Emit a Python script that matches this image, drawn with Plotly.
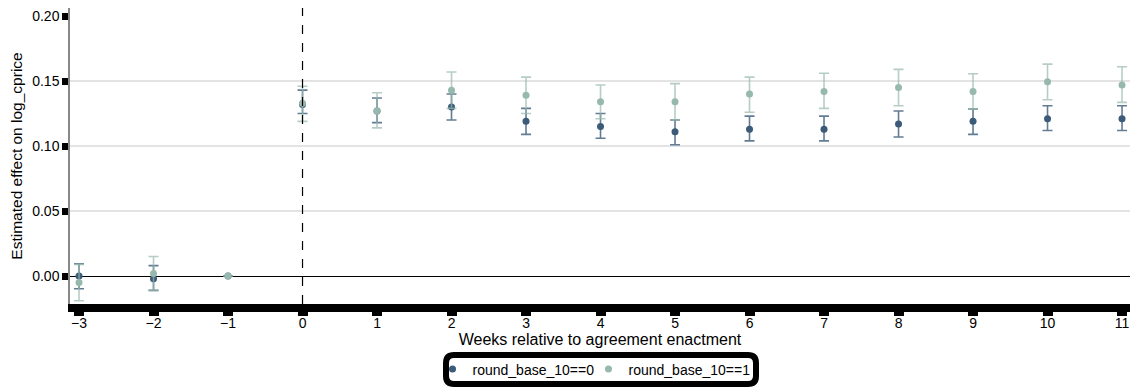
import plotly.graph_objects as go

weeks = [-3, -2, -1, 0, 1, 2, 3, 4, 5, 6, 7, 8, 9, 10, 11]

est0 = [0.000, -0.002, 0.000, 0.132, 0.127, 0.130, 0.119, 0.115, 0.111, 0.113, 0.113, 0.117, 0.119, 0.121, 0.121]
hi0 = [0.0095, 0.008, 0.000, 0.143, 0.137, 0.140, 0.129, 0.125, 0.120, 0.123, 0.123, 0.127, 0.1285, 0.131, 0.131]
lo0 = [-0.0098, -0.011, 0.000, 0.125, 0.118, 0.120, 0.109, 0.106, 0.101, 0.104, 0.104, 0.107, 0.109, 0.112, 0.112]

est1 = [-0.005, 0.002, 0.000, 0.133, 0.127, 0.143, 0.139, 0.134, 0.134, 0.140, 0.142, 0.145, 0.142, 0.1495, 0.147]
hi1 = [0.009, 0.015, 0.000, 0.146, 0.141, 0.157, 0.153, 0.147, 0.148, 0.153, 0.156, 0.159, 0.1556, 0.163, 0.161]
lo1 = [-0.019, -0.011, 0.000, 0.119, 0.114, 0.129, 0.125, 0.121, 0.120, 0.126, 0.129, 0.131, 0.1285, 0.1356, 0.1336]

names = ["round_base_10==0", "round_base_10==1"]
dot_colors = ["#3b5b78", "#97b8ad"]
bar_colors = ["rgba(59,91,120,0.8)", "rgba(151,184,173,0.7)"]

yticks = [0.00, 0.05, 0.10, 0.15, 0.20]
grid_vals = [0.05, 0.10, 0.15]
xticks = weeks

FONT = "Liberation Sans, Arial, sans-serif"

fig = go.Figure()
# gridline-only overlay axis (drawn first)
fig.add_trace(go.Scatter(x=[weeks[0]], y=[0], yaxis="y2", mode="markers",
                         marker=dict(opacity=0), showlegend=False, hoverinfo="skip"))
for i, (est, hi, lo, name, dc, bc) in enumerate([
    (est0, hi0, lo0, names[0], dot_colors[0], bar_colors[0]),
    (est1, hi1, lo1, names[1], dot_colors[1], bar_colors[1]),
]):
    fig.add_trace(go.Scatter(
        x=weeks, y=est, mode="markers", name=name,
        marker=dict(color=dc, size=7),
        legendwidth=111 if i == 0 else None,
        error_y=dict(type="data", symmetric=False,
                     array=[h - e for h, e in zip(hi, est)],
                     arrayminus=[e - l for e, l in zip(est, lo)],
                     color=bc, thickness=1.6, width=5),
    ))

fig.add_vline(x=0, line=dict(color="black", width=1.2, dash="dash"))

H, W = 388, 1130
L, top, plot_bottom = 70, 8, 304
dom_lo = (H - plot_bottom) / (H - top)


def px_x(p):
    return (p - L) / (W - L)


def px_y(p):
    return (H - p) / (H - top)


# rounded legend frame (decoration)
x0, x1, y0, y1, r = 446, 756, 355, 384, 8
path = (
    f"M {px_x(x0 + r)},{px_y(y0)} L {px_x(x1 - r)},{px_y(y0)} "
    f"Q {px_x(x1)},{px_y(y0)} {px_x(x1)},{px_y(y0 + r)} "
    f"L {px_x(x1)},{px_y(y1 - r)} Q {px_x(x1)},{px_y(y1)} {px_x(x1 - r)},{px_y(y1)} "
    f"L {px_x(x0 + r)},{px_y(y1)} Q {px_x(x0)},{px_y(y1)} {px_x(x0)},{px_y(y1 - r)} "
    f"L {px_x(x0)},{px_y(y0 + r)} Q {px_x(x0)},{px_y(y0)} {px_x(x0 + r)},{px_y(y0)} Z"
)
fig.add_shape(type="path", path=path, xref="paper", yref="paper",
              line=dict(color="black", width=6), fillcolor="rgba(0,0,0,0)", layer="above")

yr = [-0.0215, 0.2062]
fig.update_layout(
    width=W, height=H,
    margin=dict(l=L, r=0, t=top, b=0),
    paper_bgcolor="white", plot_bgcolor="white",
    font=dict(family=FONT, size=14, color="black"),
    showlegend=True,
    legend=dict(orientation="h", x=px_x(594), xanchor="center", y=px_y(369.5), yanchor="middle",
                borderwidth=0, bgcolor="rgba(0,0,0,0)", font=dict(size=14),
                itemwidth=30),
    xaxis=dict(range=[-3.121, 11.107], tickvals=xticks,
               ticktext=["\u2212" + str(-w) if w < 0 else str(w) for w in xticks],
               automargin=False,
               showgrid=False, zeroline=False, showline=True, linecolor="black", linewidth=8,
               ticks="outside", ticklen=4, tickwidth=10, tickcolor="black",
               ticklabelstandoff=-5,
               title=dict(text="Weeks relative to agreement enactment", font=dict(size=16), standoff=0),
               tickfont=dict(size=14)),
    yaxis=dict(range=yr, domain=[dom_lo, 1], tickvals=yticks, ticktext=["%.2f" % v for v in yticks],
               automargin=False,
               showgrid=False, zeroline=True, zerolinecolor="black", zerolinewidth=1.2,
               showline=True, linecolor="#888888", linewidth=1.5,
               ticks="outside", ticklen=6, tickwidth=7, tickcolor="black",
               title=dict(text="Estimated effect on log_cprice", font=dict(size=15.5), standoff=6),
               tickfont=dict(size=14)),
    yaxis2=dict(range=yr, domain=[dom_lo, 1], overlaying="y", tickvals=grid_vals, showticklabels=False,
                automargin=False,
                showgrid=True, gridcolor="#e3e3e3", gridwidth=1.5, zeroline=False,
                showline=False, ticks=""),
)

fig.write_html("out.html", config={"displayModeBar": False},
               post_script="document.body.style.margin='0';document.body.style.overflow='hidden';")
